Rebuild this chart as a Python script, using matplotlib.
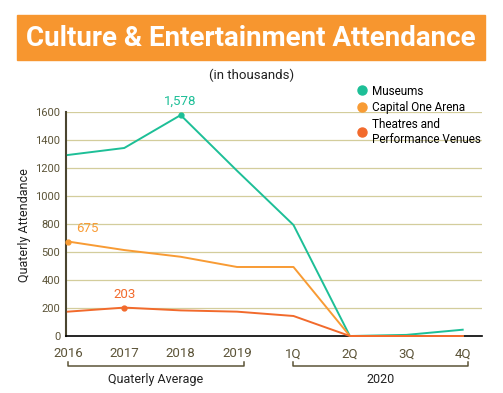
import matplotlib.pyplot as plt
from matplotlib.lines import Line2D
from matplotlib.patches import Rectangle
import matplotlib.transforms as mtransforms

periods = ['2016', '2017', '2018', '2019', '1Q', '2Q', '3Q', '4Q']
museums = [1293, 1343, 1578, 1180, 793, 0, 8, 45]
capital_one = [675, 614, 566, 493, 493, 0, 0, 0]
theatres = [174, 203, 183, 174, 143, 0, 0, 0]
series_names = ['Museums', 'Capital One Arena', 'Theatres and\nPerformance Venues']
colors = ['#1dbf97', '#f89b34', '#f26a2c']
y_ticks = [0, 200, 400, 600, 800, 1000, 1200, 1400, 1600]
y_tick_labels = ['0', '200', '400', '500', '800', '1000', '1200', '1400', '1600']
# (series index, period index, label text)
callouts = [(0, 2, '1,578'), (1, 0, '675'), (2, 1, '203')]

plt.rcParams['font.family'] = ['Roboto', 'DejaVu Sans']

fig = plt.figure(figsize=(5.03, 3.93), dpi=100)
ax = fig.add_axes([0.131, 0.145, 0.827, 0.570])

x = list(range(len(periods)))
all_series = [museums, capital_one, theatres]
for vals, c in zip(all_series, colors):
    ax.plot(x, vals, color=c, lw=1.4, clip_on=False, zorder=3)

for si, pi, txt in callouts:
    v = all_series[si][pi]
    ax.plot(pi, v, 'o', color=colors[si], ms=3.5, clip_on=False, zorder=4)
    ax.annotate(txt, (pi, v), xytext=(0 if pi else 6, 5), textcoords='offset points',
                ha='left' if pi == 0 else 'center', va='bottom', color=colors[si], fontsize=9.5)

ax.set_xlim(-0.035, 7.34)
ax.set_ylim(0, 1600)
ax.set_xticks(x)
ax.set_xticklabels(periods, fontsize=9.5, color='#5b5337')
ax.set_yticks(y_ticks)
ax.set_yticklabels(y_tick_labels, fontsize=8, color='#5b5337')
ax.tick_params(length=0, pad=4)
ax.tick_params(axis='x', pad=8)
for t in y_ticks[1:]:
    ax.axhline(t, color='#d3cd9c', lw=0.9, zorder=1)

for s in ['top', 'right']:
    ax.spines[s].set_visible(False)
ax.spines['left'].set_color('#4a4530')
ax.spines['left'].set_linewidth(1.5)
ax.spines['bottom'].set_color('black')
ax.spines['bottom'].set_linewidth(1.2)

# brackets under the x axis
trans = mtransforms.blended_transform_factory(ax.transData, ax.transAxes)
for (x0, x1), lab in [((0, 3.12), 'Quaterly Average'), ((4, 7.1), '2020')]:
    ax.plot([x0, x0, x1, x1], [-0.115, -0.135, -0.135, -0.115], color='#5b5337',
            lw=1.1, transform=trans, clip_on=False)
    ax.text((x0 + x1) / 2, -0.165, lab, transform=trans, ha='center', va='top',
            fontsize=9, color='#222222')

# title banner
fig.patches.append(Rectangle((0.034, 0.847), 0.930, 0.115, transform=fig.transFigure,
                             color='#f7962f', zorder=0))
fig.text(0.499, 0.903, 'Culture & Entertainment Attendance', ha='center', va='center',
         fontsize=20, fontweight='bold', color='white')
fig.text(0.501, 0.809, '(in thousands)', ha='center', va='center', fontsize=9.5, color='#222222')
fig.text(0.048, 0.428, 'Quaterly Attendance', rotation=90, ha='center', va='center',
         fontsize=9, color='#222222')

handles = [Line2D([], [], marker='o', ls='none', color=c, ms=6.5) for c in colors]
fig.legend(handles, series_names, loc='upper left', bbox_to_anchor=(0.697, 0.800),
           frameon=False, fontsize=8.5, handletextpad=0.3, labelspacing=0.3,
           handlelength=1.0, borderpad=0)

fig.savefig('out.png', dpi=100)
